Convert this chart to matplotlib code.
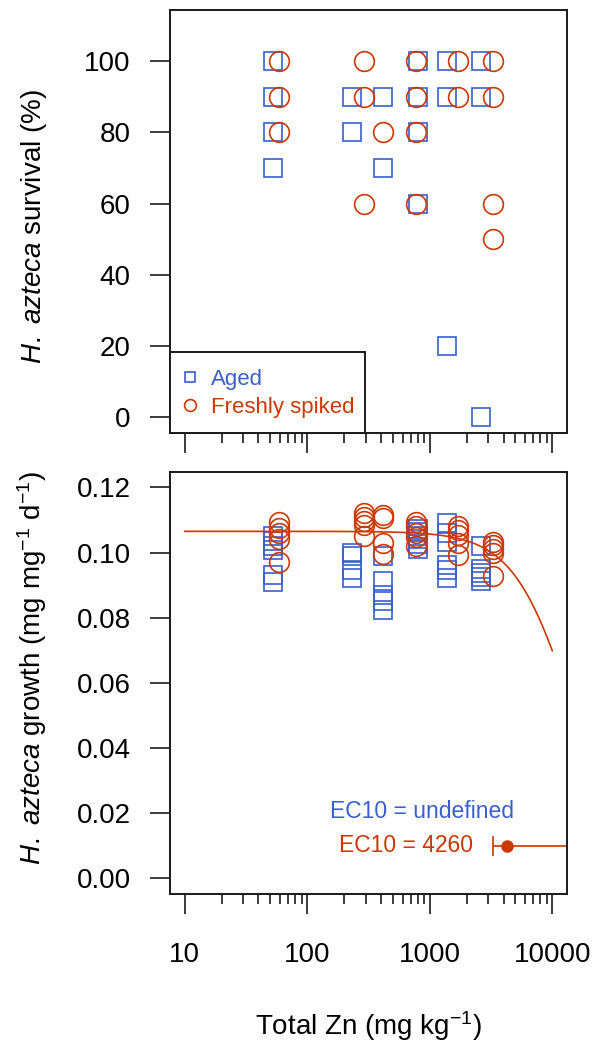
import numpy as np
import matplotlib
matplotlib.use("Agg")
import matplotlib.pyplot as plt
from matplotlib.lines import Line2D
from matplotlib.patches import Rectangle
from matplotlib.ticker import NullFormatter, FixedLocator, FormatStrFormatter

plt.rcParams['font.family'] = ['Liberation Sans', 'DejaVu Sans']
plt.rcParams['mathtext.fontset'] = 'custom'
plt.rcParams['mathtext.rm'] = 'Liberation Sans'
plt.rcParams['mathtext.it'] = 'Liberation Sans:italic'
plt.rcParams['mathtext.bf'] = 'Liberation Sans:bold'

BLUE = "#3A5FCD"
RED = "#CD3700"

# ---------------- data ----------------
aged_conc = [53, 231, 412, 804, 1393, 2599]
fresh_conc = [59, 291, 412, 765, 1698, 3273]

# survival (%) per concentration
aged_surv = [[100, 90, 80, 70], [90, 80], [90, 70], [100, 90, 80, 60],
             [100, 90, 20], [100, 90, 0]]
fresh_surv = [[100, 90, 80], [100, 90, 60], [80], [100, 90, 80, 60],
              [100, 90], [100, 90, 60, 50]]

# growth (mg mg-1 d-1) per concentration
aged_growth = [[0.1052, 0.1035, 0.1020, 0.1007, 0.0932, 0.0909],
               [0.1000, 0.0990, 0.0945, 0.0922],
               [0.0990, 0.0914, 0.0870, 0.0850, 0.0823],
               [0.1072, 0.1062, 0.1050, 0.1040, 0.1025, 0.1011],
               [0.1092, 0.1060, 0.1032, 0.0961, 0.0945, 0.0922],
               [0.1020, 0.0949, 0.0938, 0.0925, 0.0912]]
fresh_growth = [[0.1094, 0.1075, 0.1060, 0.1040, 0.0970],
                [0.1120, 0.1108, 0.1098, 0.1085, 0.1050],
                [0.1115, 0.1105, 0.1030, 0.0995],
                [0.1094, 0.1082, 0.1060, 0.1048, 0.1020],
                [0.1081, 0.1069, 0.1055, 0.1030, 0.0991],
                [0.1033, 0.1023, 0.1010, 0.0998, 0.0929]]

# fitted log-logistic model (freshly spiked) and EC10
fit_top = 0.1065
fit_slope = 1.82
ec10 = 4260
ec10_lower = 3270
ec10_upper = 40000
ec10_y = 0.01

x_ticks = [10, 100, 1000, 10000]
x_tick_labels = ["10", "100", "1000", "10000"]
x_minor_ticks = [m * d for d in (10, 100, 1000) for m in range(2, 10)]
surv_ticks = [0, 20, 40, 60, 80, 100]
growth_ticks = [0.00, 0.02, 0.04, 0.06, 0.08, 0.10, 0.12]

# ---------------- figure ----------------
W, H = 594, 1042
fig = plt.figure(figsize=(W / 100, H / 100), dpi=100)

def fig_rect(l, t, r, b):
    return [l / W, 1 - b / H, (r - l) / W, (b - t) / H]

ax1 = fig.add_axes(fig_rect(170, 10, 567, 433))
ax2 = fig.add_axes(fig_rect(170, 471.7, 567, 894))

xlim = (10 ** 0.88, 10 ** 4.12)
FS = 20
SPINE = "#1a1a1a"

def style(ax):
    ax.set_xscale('log')
    ax.set_xlim(*xlim)
    for s in ax.spines.values():
        s.set_linewidth(1.4)
        s.set_color(SPINE)
    ax.xaxis.set_major_locator(FixedLocator(x_ticks))
    ax.xaxis.set_minor_locator(FixedLocator(x_minor_ticks))
    ax.xaxis.set_minor_formatter(NullFormatter())
    ax.tick_params(axis='both', which='major', length=14.4, width=1.2,
                   color=SPINE, labelsize=FS, pad=14)
    ax.tick_params(axis='x', which='minor', length=7.2, width=1.2, color=SPINE)
    ax.tick_params(axis='x', which='major', pad=20)

# ---- top panel ----
style(ax1)
for c, vals in zip(aged_conc, aged_surv):
    ax1.plot([c] * len(vals), vals, linestyle='none', marker='s', ms=12.6,
             mfc='none', mec=BLUE, mew=1.2)
for c, vals in zip(fresh_conc, fresh_surv):
    ax1.plot([c] * len(vals), vals, linestyle='none', marker='o', ms=14.2,
             mfc='none', mec=RED, mew=1.2)
ax1.set_ylim(-4.4, 114.4)
ax1.yaxis.set_major_locator(FixedLocator(surv_ticks))
ax1.set_xticklabels([])
ax1.set_ylabel(r"$\mathit{H.\ azteca}$ survival (%)", fontsize=FS)
ax1.yaxis.set_label_coords(-0.305, 0.487)

# legend box (bottom-left corner of panel)
ax1.add_patch(Rectangle((0, 0), 195 / 397, (433 - 351.7) / 423,
                        transform=ax1.transAxes, facecolor='white',
                        edgecolor=SPINE, linewidth=1.4, zorder=4,
                        clip_on=False))
handles = [Line2D([], [], linestyle='none', marker='s', ms=7.5, mfc='none',
                  mec=BLUE, mew=1.2),
           Line2D([], [], linestyle='none', marker='o', ms=8.5, mfc='none',
                  mec=RED, mew=1.2)]
leg = ax1.legend(handles, ["Aged", "Freshly spiked"], loc='center left',
                 bbox_to_anchor=(11.1 / 397, (433 - 393.5) / 423),
                 borderaxespad=0, fontsize=16, frameon=False,
                 handlelength=0.8, handletextpad=0.53, borderpad=0,
                 labelspacing=0.29)
leg.set_zorder(5)
for t, col in zip(leg.get_texts(), [BLUE, RED]):
    t.set_color(col)

# ---- bottom panel ----
style(ax2)
for c, vals in zip(aged_conc, aged_growth):
    ax2.plot([c] * len(vals), vals, linestyle='none', marker='s', ms=12.6,
             mfc='none', mec=BLUE, mew=1.2)
for c, vals in zip(fresh_conc, fresh_growth):
    ax2.plot([c] * len(vals), vals, linestyle='none', marker='o', ms=14.2,
             mfc='none', mec=RED, mew=1.2)

xc = np.logspace(1, 4, 300)
ec50 = ec10 * 9 ** (1 / fit_slope)
yc = fit_top / (1 + (xc / ec50) ** fit_slope)
ax2.plot(xc, yc, color=RED, lw=1.2)

ax2.errorbar([ec10], [ec10_y], xerr=[[ec10 - ec10_lower], [ec10_upper - ec10]],
             fmt='o', color=RED, ms=8, capsize=7, elinewidth=1.2, capthick=1.2)
ax2.annotate("EC10 = 4260", xy=(ec10_lower, ec10_y), xytext=(-14, 0),
             textcoords='offset points', ha='right', va='center',
             color=RED, fontsize=16.5)
ax2.annotate("EC10 = undefined", xy=(ec10, ec10_y), xytext=(-61, 25),
             textcoords='offset points', ha='center', va='center',
             color=BLUE, fontsize=16.5)

ax2.set_ylim(-0.0048, 0.1248)
ax2.yaxis.set_major_locator(FixedLocator(growth_ticks))
ax2.yaxis.set_major_formatter(FormatStrFormatter('%.2f'))
ax2.set_xticklabels(x_tick_labels)
ax2.set_ylabel(r"$\mathit{H.\ azteca}$ growth (mg mg$^{-1}$ d$^{-1}$)", fontsize=FS)
ax2.yaxis.set_label_coords(-0.305, 0.535)
ax2.set_xlabel(r"Total Zn (mg kg$^{-1}$)", fontsize=FS, labelpad=30)

fig.savefig("out.png", dpi=100)
